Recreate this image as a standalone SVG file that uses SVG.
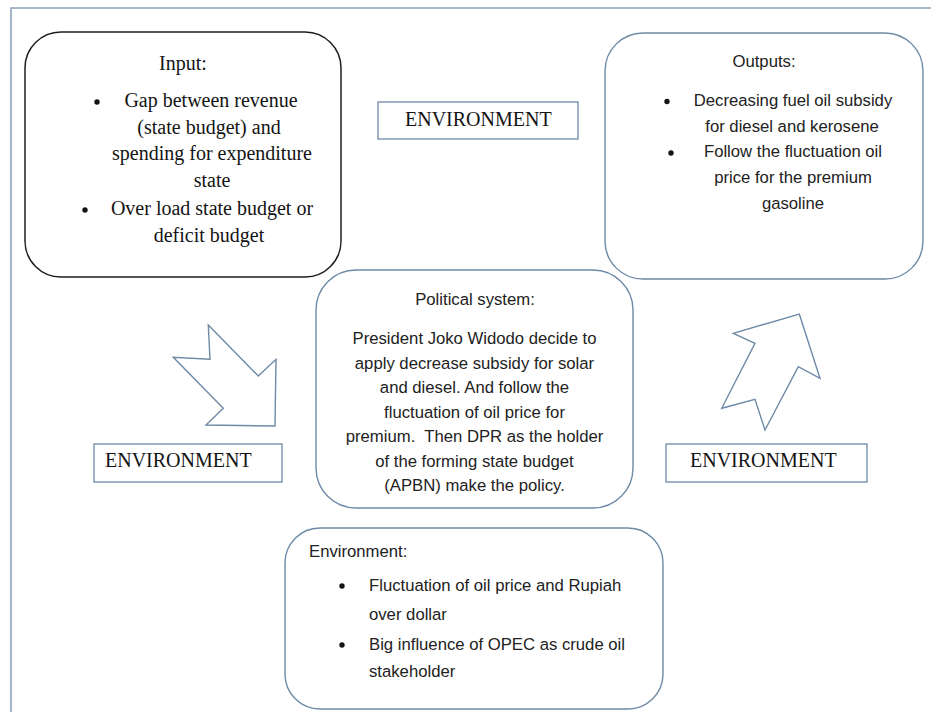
<svg xmlns="http://www.w3.org/2000/svg" width="931" height="712" viewBox="0 0 931 712">
<style>
.frame{fill:none;stroke:#8fa3b8;stroke-width:1.6}
.blue{fill:#fff;stroke:#6e8aa6;stroke-width:1.4}
.blk{fill:#fff;stroke:#1e1e1e;stroke-width:1.5}
.env{fill:#fff;stroke:#6e8aa6;stroke-width:1.3}
.arrow{fill:#fff;stroke:#6e8aa6;stroke-width:1.4;stroke-linejoin:miter}
.serif{font-family:"Liberation Serif","Times New Roman",serif;font-size:20px;fill:#141414}
.sans{font-family:"Liberation Sans",Arial,sans-serif;font-size:16.7px;fill:#222}
.c{text-anchor:middle}
.dot{fill:#141414}
</style>
<rect x="0" y="0" width="931" height="712" fill="#fff"/>
<path class="frame" d="M11,720 L11,8 L940,8"/>

<g id="connectors">
  <polygon id="arrow-in" class="arrow" points="208.3,325 258.3,376 276,359.3 275,426 206,425 223.3,408.3 173.3,357.3 210,359.3"/>
  <polygon id="arrow-out" class="arrow" points="799.3,314 820,378.3 798.3,366.7 765,430 755,399.3 721.7,408.3 755,343.3 733.3,333.3"/>
</g>

<g id="input">
  <rect class="blk" x="25" y="32" width="316" height="245" rx="36" ry="36"/>
  <text class="serif c" x="183" y="70">Input:</text>
  <circle class="dot" cx="97" cy="102" r="2.7"/>
  <text class="serif c" x="211" y="107">Gap between revenue</text>
  <text class="serif c" x="209" y="134">(state budget) and</text>
  <text class="serif c" x="212" y="160">spending for expenditure</text>
  <text class="serif c" x="212" y="187">state</text>
  <circle class="dot" cx="85" cy="210" r="2.7"/>
  <text class="serif c" x="212" y="215">Over load state budget or</text>
  <text class="serif c" x="209" y="242">deficit budget</text>
</g>

<g id="env-top">
  <rect class="env" x="378" y="102" width="200" height="37"/>
  <text class="serif" x="405" y="126">ENVIRONMENT</text>
</g>

<g id="outputs">
  <rect class="blue" x="605" y="33" width="318" height="246" rx="38" ry="38"/>
  <text class="sans c" x="764" y="67">Outputs:</text>
  <circle class="dot" cx="667" cy="101.5" r="2.7"/>
  <text class="sans c" x="793" y="106">Decreasing fuel oil subsidy</text>
  <text class="sans c" x="792" y="132">for diesel and kerosene</text>
  <circle class="dot" cx="671" cy="153" r="2.7"/>
  <text class="sans c" x="793" y="157">Follow the fluctuation oil</text>
  <text class="sans c" x="793" y="183">price for the premium</text>
  <text class="sans c" x="793" y="209">gasoline</text>
</g>

<g id="political">
  <rect class="blue" x="316" y="270" width="317" height="238" rx="40" ry="40"/>
  <text class="sans c" x="475" y="305">Political system:</text>
  <text class="sans c" x="474.5" y="344">President Joko Widodo decide to</text>
  <text class="sans c" x="474.5" y="368.5">apply decrease subsidy for solar</text>
  <text class="sans c" x="474.5" y="393">and diesel. And follow the</text>
  <text class="sans c" x="474.5" y="417.5">fluctuation of oil price for</text>
  <text class="sans c" x="474.5" y="442" xml:space="preserve">premium.  Then DPR as the holder</text>
  <text class="sans c" x="474.5" y="466.5">of the forming state budget</text>
  <text class="sans c" x="474.5" y="491">(APBN) make the policy.</text>
</g>

<g id="env-left">
  <rect class="env" x="94" y="444" width="188" height="38"/>
  <text class="serif" x="105" y="467">ENVIRONMENT</text>
</g>

<g id="env-right">
  <rect class="env" x="666" y="444" width="201" height="38"/>
  <text class="serif" x="690" y="467">ENVIRONMENT</text>
</g>

<g id="environment">
  <rect class="blue" x="285" y="528" width="378" height="181" rx="35" ry="35"/>
  <text class="sans" x="309" y="557">Environment:</text>
  <circle class="dot" cx="342" cy="586" r="2.7"/>
  <text class="sans" x="369" y="591">Fluctuation of oil price and Rupiah</text>
  <text class="sans" x="369" y="620">over dollar</text>
  <circle class="dot" cx="342" cy="645" r="2.7"/>
  <text class="sans" x="369" y="650">Big influence of OPEC as crude oil</text>
  <text class="sans" x="369" y="677">stakeholder</text>
</g>
</svg>
